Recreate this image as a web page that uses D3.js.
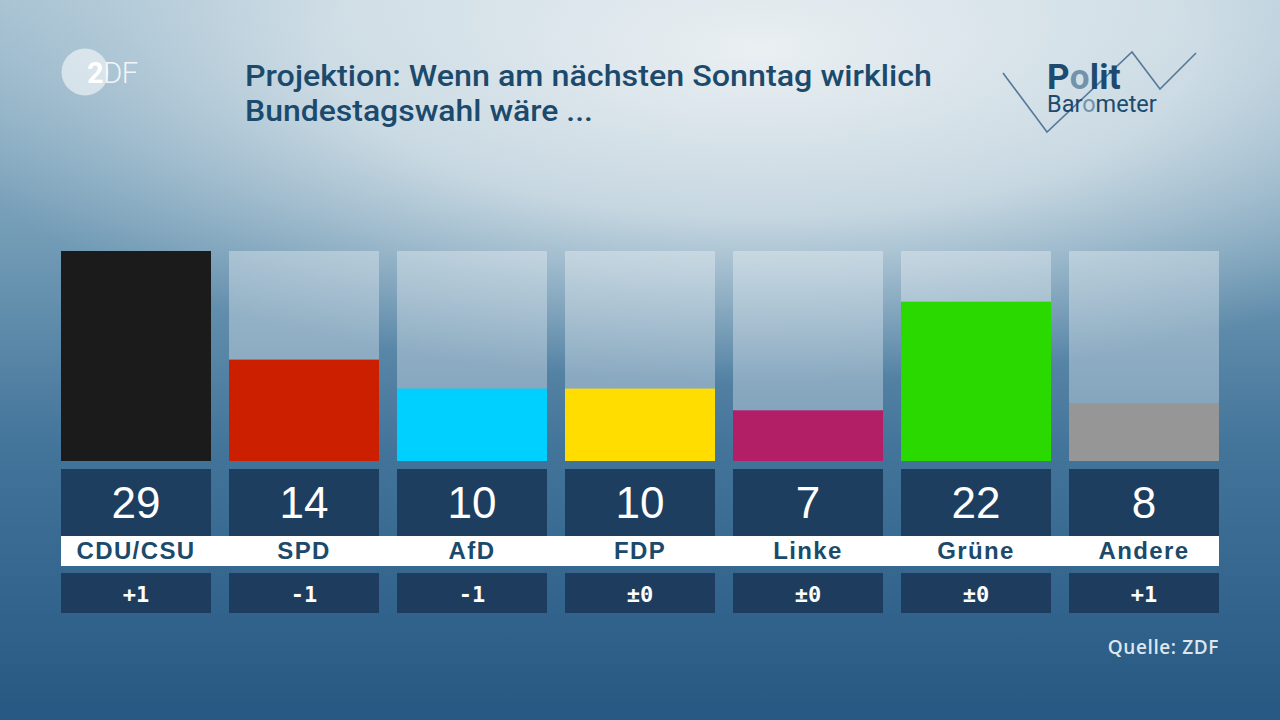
<!DOCTYPE html>
<html><head><meta charset="utf-8">
<script src="https://cdn.jsdelivr.net/npm/d3@7/dist/d3.min.js"></script>
<style>html,body{margin:0;padding:0;overflow:hidden;background:#2a5a82}</style>
</head><body>
<svg id="c" width="1280" height="720"></svg>
<script>
const parties = ["CDU/CSU","SPD","AfD","FDP","Linke","Grüne","Andere"];
const values = [29,14,10,10,7,22,8];
const changes = ["+1","-1","-1","±0","±0","±0","+1"];
const colors = ["#1b1b1b","#cc1f00","#00d0ff","#ffdd00","#b31f66","#2ad900","#969696"];
const titleLines = ["Projektion: Wenn am nächsten Sonntag wirklich","Bundestagswahl wäre ..."];
const source = "Quelle: ZDF";

const svg = d3.select("#c");
const defs = svg.append("defs");
const lg = defs.append("linearGradient").attr("id","bgv").attr("x1",0).attr("y1",0).attr("x2",0).attr("y2",1);
[[0,"#a2bfd0"],[0.35,"#6f99b4"],[0.62,"#43749a"],[1,"#275883"]].forEach(s=>lg.append("stop").attr("offset",s[0]).attr("stop-color",s[1]));
const rg = defs.append("radialGradient").attr("id","bgr").attr("gradientUnits","userSpaceOnUse")
  .attr("cx",760).attr("cy",50).attr("r",640).attr("gradientTransform","translate(760,50) scale(1.35,0.52) translate(-760,-50)");
[[0,"#eef2f4",0.95],[0.5,"#e0e9ee",0.75],[1,"#c8d8e2",0]].forEach(s=>rg.append("stop").attr("offset",s[0]).attr("stop-color",s[1]).attr("stop-opacity",s[2]));
svg.append("rect").attr("width",1280).attr("height",720).attr("fill","url(#bgv)");
svg.append("rect").attr("width",1280).attr("height",720).attr("fill","url(#bgr)");

// ZDF logo
const zl = svg.append("g");
zl.append("circle").attr("cx",85).attr("cy",72).attr("r",23.5).attr("fill","#ffffff").attr("opacity",0.55);
zl.append("text").attr("x",87).attr("y",83).attr("font-family","Roboto, sans-serif").attr("font-weight",700)
  .attr("font-size",29).attr("fill","#ffffff").attr("letter-spacing",-0.5).text("2")
  .append("tspan").attr("font-weight",300).attr("fill","#ffffff").attr("fill-opacity",0.85).text("DF");

// Title
svg.append("g").selectAll("text").data(titleLines).join("text")
  .attr("x",245).attr("y",(d,i)=>86+i*35)
  .attr("font-family","Roboto, sans-serif").attr("font-weight",500)
  .attr("font-size",29).attr("fill","#1c4a6c")
  .attr("textLength",(d,i)=> i===0?687:348).attr("lengthAdjust","spacingAndGlyphs")
  .text(d=>d);

// Politbarometer logo
const pl = svg.append("g");
pl.append("polyline").attr("points","1003,73 1047,132 1132,52 1160,89 1196,53")
  .attr("fill","none").attr("stroke","#56799a").attr("stroke-width",1.6);
const pt = pl.append("text").attr("x",1047).attr("y",89).attr("font-family","Roboto, sans-serif")
  .attr("font-weight",700).attr("font-size",35).attr("fill","#1d4a6e").attr("letter-spacing",0.3);
pt.append("tspan").text("P"); pt.append("tspan").attr("fill","#7393ab").text("o"); pt.append("tspan").text("lit");
const bt = pl.append("text").attr("x",1047).attr("y",112).attr("font-family","Roboto, sans-serif")
  .attr("font-weight",400).attr("font-size",23.5).attr("fill","#1d4a6e");
bt.append("tspan").text("Bar"); bt.append("tspan").attr("fill","#7393ab").text("o"); bt.append("tspan").text("meter");

// Scales
const x = d3.scaleBand().domain(parties).range([61,1219]).paddingInner(18/168).paddingOuter(0);
const y = d3.scaleLinear().domain([0,29]).range([461,251]);

const g = svg.append("g");
g.selectAll("rect.bg").data(parties).join("rect").attr("class","bg")
  .attr("x",d=>x(d)).attr("width",x.bandwidth()).attr("y",y(29)).attr("height",y(0)-y(29))
  .attr("fill","#ffffff").attr("fill-opacity",0.32);
g.selectAll("rect.v").data(values).join("rect").attr("class","v")
  .attr("x",(d,i)=>x(parties[i])).attr("width",x.bandwidth())
  .attr("y",d=>y(d)).attr("height",d=>y(0)-y(d)).attr("fill",(d,i)=>colors[i]);
g.selectAll("rect.n").data(values).join("rect").attr("class","n")
  .attr("x",(d,i)=>x(parties[i])).attr("width",x.bandwidth()).attr("y",469).attr("height",67)
  .attr("fill","#1e3e5f");
g.selectAll("text.n").data(values).join("text").attr("class","n")
  .attr("x",(d,i)=>x(parties[i])+x.bandwidth()/2).attr("y",518).attr("text-anchor","middle")
  .attr("font-family","'Liberation Sans', Arial, sans-serif").attr("font-weight",400).attr("font-size",44)
  .attr("fill","#ffffff").text(d=>d);
g.append("rect").attr("x",61).attr("y",536).attr("width",1158).attr("height",30).attr("fill","#ffffff");
g.selectAll("text.l").data(parties).join("text").attr("class","l")
  .attr("x",d=>x(d)+x.bandwidth()/2).attr("y",559).attr("text-anchor","middle")
  .attr("font-family","'Liberation Sans', Arial, sans-serif").attr("font-weight",700).attr("font-size",24)
  .attr("letter-spacing",1.4).attr("fill","#1b4a6b").text(d=>d);
g.selectAll("rect.c").data(changes).join("rect").attr("class","c")
  .attr("x",(d,i)=>x(parties[i])).attr("width",x.bandwidth()).attr("y",573).attr("height",40)
  .attr("fill","#1d3c5e");
g.selectAll("text.c").data(changes).join("text").attr("class","c")
  .attr("x",(d,i)=>x(parties[i])+x.bandwidth()/2).attr("y",602).attr("text-anchor","middle")
  .attr("font-family","'DejaVu Sans Mono', monospace").attr("font-weight",700).attr("font-size",22)
  .attr("fill","#ffffff").text(d=>d);

svg.append("text").attr("x",1219).attr("y",654).attr("text-anchor","end")
  .attr("font-family","'Open Sans', sans-serif").attr("font-weight",600).attr("font-size",19)
  .attr("letter-spacing",0.6).attr("fill","#dce6ee").text(source);
</script>
</body></html>
